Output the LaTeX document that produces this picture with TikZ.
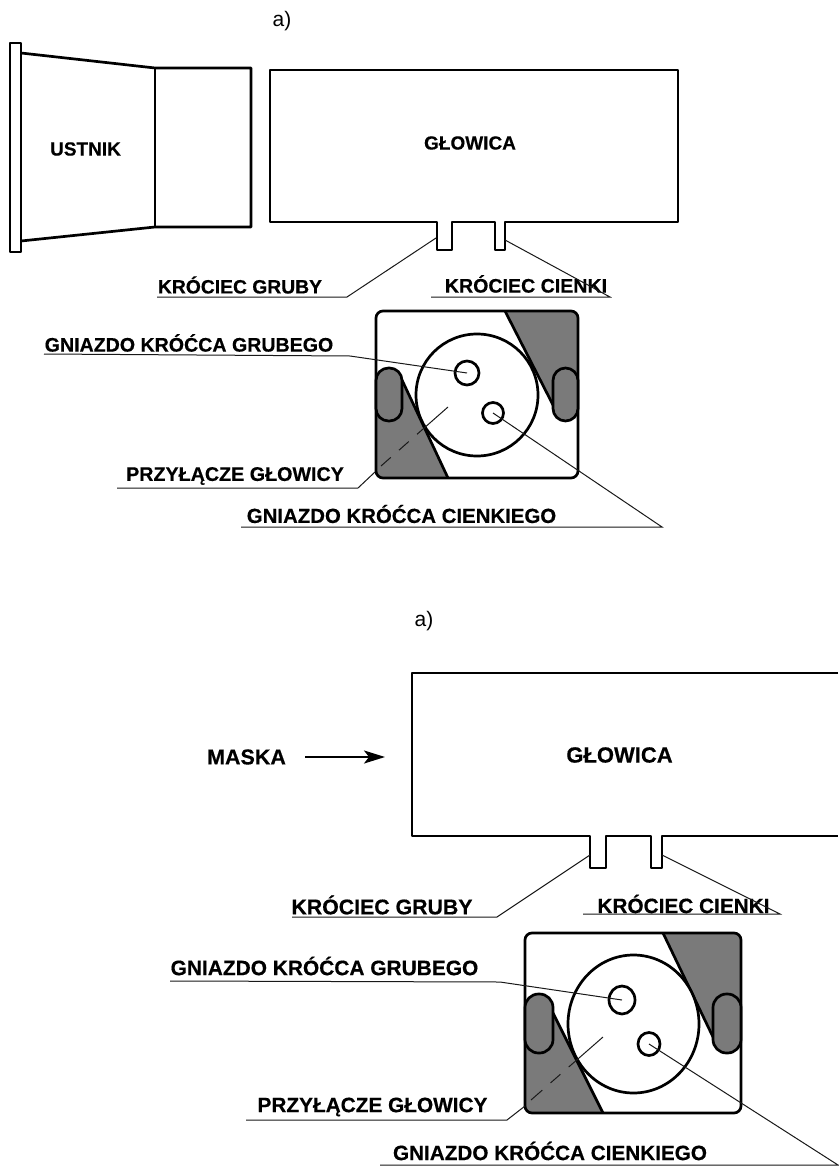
\documentclass[tikz,border=0pt]{standalone}
\usepackage{fontspec}
\setmainfont[BoldFeatures={FakeBold=0.4}]{Liberation Sans}
\tikzset{
  outline/.style={draw=black,line width=2.7pt,line join=round},
  leader/.style={draw=black!90,line width=1pt},
  hatchfill/.style={fill=black!52},
  slotbox/.style={draw=black,line width=2.7pt,fill=black!52,rounded corners=12.5pt},
  holecirc/.style={draw=black,line width=2.7pt,fill=white,ellipse,inner sep=0pt},
  lab/.style={inner sep=0pt,font=\fontsize{#1}{#1}\selectfont\bfseries},
  plain/.style={inner sep=0pt,font=\fontsize{#1}{#1}\selectfont},
}
\usetikzlibrary{shapes.geometric,arrows.meta}
\begin{document}
\begin{tikzpicture}[x=1pt,y=-1pt]
\useasboundingbox[fill=white] (0,0) rectangle (838,1166);

% ---------- top panel ----------
\node[plain=21] (atop) at (282,21) {a)};

% mouthpiece
\draw[outline] (10,43) rectangle (21,252);
\draw[outline] (21,53) -- (155,68) -- (251,68) -- (251,227) -- (155,227) -- (21,241);
\draw[outline] (155,68) -- (155,227);
\node[lab=19] (ustnik) at (85.5,149) {USTNIK};

% head
\draw[outline] (270,70) -- (678,70) -- (678,222) -- (505,222) -- (505,250) -- (495,250) -- (495,222)
  -- (452,222) -- (452,250) -- (437,250) -- (437,222) -- (270,222) -- cycle;
\node[lab=19] (glowicaA) at (470,143) {GŁOWICA};

\node[lab=19.3] (grubyA) at (240,285) {KRÓCIEC GRUBY};
\node[lab=19.6] (cienkiA) at (526,284) {KRÓCIEC CIENKI};
\coordinate (gsA) at (436,238);
\coordinate (cnA) at (505,240);
\coordinate (g1A) at (347,297);
\coordinate (g2A) at (157,297);
\coordinate (c1A) at (610,297);
\coordinate (c2A) at (431,297);
\draw[leader] (gsA) -- (g1A) -- (g2A);
\draw[leader] (cnA) -- (c1A) -- (c2A);

% socket plate
\begin{scope}
  \clip[rounded corners=7pt] (376,311) rectangle (578,478);
  \fill[hatchfill] (505,311) -- (578,311) -- (578,385) -- (553,405) -- cycle;
  \fill[hatchfill] (402,380) -- (448,478) -- (376,478) -- (376,380) -- cycle;
\end{scope}
\draw[outline] (505,311) -- (553,405);
\draw[outline] (402,380) -- (448,478);
\draw[outline,rounded corners=7pt] (376,311) rectangle (578,478);
\draw[slotbox] (376,368) rectangle (402,421);
\draw[slotbox] (553,368) rectangle (578,421);
\draw[outline,fill=white] (477,395) circle (61);
\node[holecirc,minimum width=24pt,minimum height=24pt] (h1A) at (467,373) {};
\node[holecirc,minimum width=21pt,minimum height=21pt] (h2A) at (493,413) {};

\node[lab=19.6] (ggA) at (189,343) {GNIAZDO KRÓĆCA GRUBEGO};
\node[lab=20.4] (gcA) at (401.5,514) {GNIAZDO KRÓĆCA CIENKIEGO};
\node[lab=19.7] (prA) at (235,476) {PRZYŁĄCZE GŁOWICY};
\coordinate (ggs) at (44,354);
\coordinate (ggm) at (350,356);
\draw[leader] (ggs) -- (ggm) -- (h1A.center);
\coordinate (gcs) at (241,527);
\coordinate (gcm) at (662,527);
\draw[leader] (gcs) -- (gcm) -- (h2A.center);
\coordinate (prs) at (117,488);
\coordinate (prm) at (358,488);
\coordinate (pre) at (375,472);
\coordinate (prd) at (448,407);
\draw[leader] (prs) -- (prm) -- (pre);
\draw[leader,dash pattern=on 13pt off 11pt on 13pt off 11pt on 60pt] (381,466) -- (prd);

% ---------- bottom panel ----------
\node[plain=21] (abot) at (424,621) {a)};
\node[lab=21.5] (maska) at (246.5,757) {MASKA};
\coordinate (mA) at (305,757);
\coordinate (mB) at (385,757);
\draw[line width=2pt,-{Stealth[length=21pt,width=13pt,inset=5pt]}] (mA) -- (mB);

\draw[outline] (838,673) -- (412,673) -- (412,836) -- (590,836) -- (590,868) -- (606,868) -- (606,836)
  -- (651,836) -- (651,868) -- (662,868) -- (662,836) -- (838,836);
\node[lab=22] (glowicaB) at (619.5,755) {GŁOWICA};

\node[lab=21.3] (grubyB) at (382,905) {KRÓCIEC GRUBY};
\node[lab=20.8] (cienkiB) at (683.5,904) {KRÓCIEC CIENKI};
\coordinate (gsB) at (590,855);
\coordinate (cnB) at (662,855);
\coordinate (g1B) at (497,917);
\coordinate (g2B) at (292,917);
\coordinate (c1B) at (780,914);
\coordinate (c2B) at (583,914);
\draw[leader] (gsB) -- (g1B) -- (g2B);
\draw[leader] (cnB) -- (c1B) -- (c2B);

\begin{scope}
  \clip[rounded corners=7pt] (525,933) rectangle (741,1113);
  \fill[hatchfill] (663,933) -- (741,933) -- (741,1015) -- (713,1037) -- cycle;
  \fill[hatchfill] (553,1013) -- (603,1113) -- (525,1113) -- (525,1013) -- cycle;
\end{scope}
\draw[outline] (663,933) -- (713,1037);
\draw[outline] (553,1013) -- (603,1113);
\draw[outline,rounded corners=7pt] (525,933) rectangle (741,1113);
\draw[slotbox,rounded corners=13.5pt] (525,994) rectangle (553,1053);
\draw[slotbox,rounded corners=13.5pt] (713,994) rectangle (741,1053);
\draw[outline,fill=white] (633.5,1024) ellipse (65.5 and 69);
\node[holecirc,minimum width=26pt,minimum height=28pt] (h1B) at (622,1000) {};
\node[holecirc,minimum width=22pt,minimum height=23pt] (h2B) at (649,1044) {};

\node[lab=20.9] (ggB) at (324.5,966) {GNIAZDO KRÓĆCA GRUBEGO};
\node[lab=20.7] (gcB) at (550,1151) {GNIAZDO KRÓĆCA CIENKIEGO};
\node[lab=20.8] (prB) at (372.5,1107) {PRZYŁĄCZE GŁOWICY};
\coordinate (ggsB) at (170,981);
\coordinate (ggmB) at (500,982);
\draw[leader] (ggsB) -- (ggmB) -- (h1B.center);
\coordinate (gcsB) at (380,1165);
\coordinate (gcmB) at (838,1165);
\draw[leader] (gcsB) -- (gcmB) -- (h2B.center);
\coordinate (prsB) at (246,1120);
\coordinate (prmB) at (507,1120);
\coordinate (preB) at (525,1106);
\coordinate (prdB) at (603,1037);
\draw[leader] (prsB) -- (prmB) -- (preB);
\draw[leader,dash pattern=on 15pt off 11pt on 13pt off 11pt on 60pt] (531,1100) -- (prdB);
\end{tikzpicture}
\end{document}
